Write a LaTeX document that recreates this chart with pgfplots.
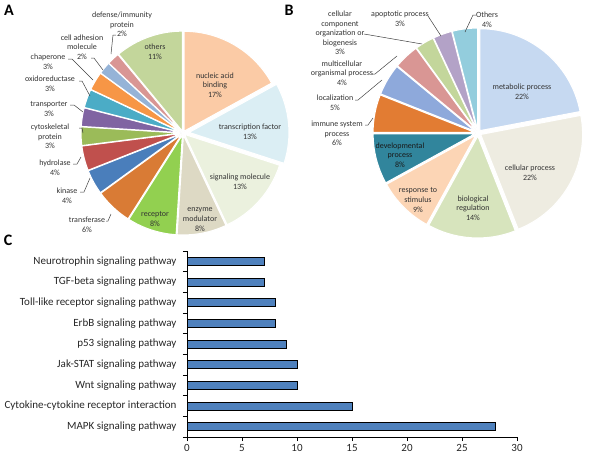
\documentclass[border=0pt]{standalone}
\usepackage{pgfplots}
\pgfplotsset{compat=1.18}
\usepackage{pgfplotstable}
\usepackage{fontspec}
\setmainfont{Carlito}

% panel A colours
\definecolor{aNuc}{HTML}{FBCBA6}
\definecolor{aTf}{HTML}{DBEEF4}
\definecolor{aSig}{HTML}{EBF1DE}
\definecolor{aEnz}{HTML}{DDD9C4}
\definecolor{aRec}{HTML}{92D050}
\definecolor{aTra}{HTML}{D97B35}
\definecolor{aKin}{HTML}{4A7EBB}
\definecolor{aHyd}{HTML}{C0504D}
\definecolor{aCyt}{HTML}{9BBB59}
\definecolor{aTrp}{HTML}{8064A2}
\definecolor{aOxi}{HTML}{4BACC6}
\definecolor{aCha}{HTML}{F79646}
\definecolor{aAdh}{HTML}{95B3D7}
\definecolor{aDef}{HTML}{D99694}
\definecolor{aOth}{HTML}{C3D69B}
% panel B colours
\definecolor{bMet}{HTML}{C6D9F1}
\definecolor{bCel}{HTML}{EEECE1}
\definecolor{bBio}{HTML}{D7E4BD}
\definecolor{bRes}{HTML}{FCD5B5}
\definecolor{bDev}{HTML}{31859C}
\definecolor{bImm}{HTML}{E27C33}
\definecolor{bLoc}{HTML}{8EA9DB}
\definecolor{bMul}{HTML}{D99694}
\definecolor{bCco}{HTML}{C3D69B}
\definecolor{bApo}{HTML}{B3A2C7}
\definecolor{bOth}{HTML}{93CDDD}
\definecolor{barblue}{HTML}{4F81BD}

\tikzset{
  lab/.style={font=\fontsize{8}{9.6}\selectfont, align=center, text=black!80, inner sep=0pt},
  lead/.style={draw=black!75, line width=0.5pt},
  panel/.style={font=\fontsize{16}{16}\bfseries\selectfont}
}

% slices clockwise from 12 o'clock
\pgfplotstableread{
value col explode
17 aNuc 2
13 aTf 6
13 aSig 2
8 aEnz 2
8 aRec 2
6 aTra 2
4 aKin 2
4 aHyd 2
3 aCyt 2
3 aTrp 2
3 aOxi 2
3 aCha 2
2 aAdh 2
2 aDef 2
11 aOth 2
}\pieA

\pgfplotstableread{
value col explode
22 bMet 3
22 bCel 3
14 bBio 3
9 bRes 3
8 bDev 3
6 bImm 3
5 bLoc 3
4 bMul 3
3 bCco 3
3 bApo 3
4 bOth 3
}\pieB

% #1 table, #2/#3 centre (axis units = pt), #4 radius in pt
\newcommand\drawpie[4]{%
  \pgfplotstablegetrowsof{#1}\let\nrows\pgfplotsretval
  \pgfmathtruncatemacro\lastrow{\nrows-1}%
  \gdef\cumangle{90}%
  \foreach \i in {0,...,\lastrow}{%
    \pgfplotstablegetelem{\i}{value}\of{#1}\let\val\pgfplotsretval
    \pgfplotstablegetelem{\i}{col}\of{#1}\let\col\pgfplotsretval
    \pgfplotstablegetelem{\i}{explode}\of{#1}\let\ex\pgfplotsretval
    \pgfmathsetmacro\aend{\cumangle-3.6*\val}%
    \pgfmathsetmacro\amid{(\cumangle+\aend)/2}%
    \fill[fill=\col, draw=white, line width=1.1pt, line join=round]
      (axis cs:#2,#3) ++(\amid:\ex pt) -- ++(\cumangle:#4pt)
      arc[start angle=\cumangle, end angle=\aend, radius=#4pt] -- cycle;
    \xdef\cumangle{\aend}%
  }%
}

\begin{document}
\begin{tikzpicture}
\path[use as bounding box] (0,0) rectangle (600pt,-460pt);

\begin{axis}[at={(0pt,0pt)}, anchor=north west, x=1pt, y=1pt, y dir=reverse,
  xmin=0, xmax=600, ymin=0, ymax=460, hide axis, clip=false]
\addplot[draw=none] coordinates {(0,0)};
\pgfplotsextra{\drawpie{\pieA}{183}{133}{100}}
\pgfplotsextra{\drawpie{\pieB}{478}{133}{102}}

\node[panel] at (axis cs:9,10) {A};
\node[panel] at (axis cs:289,10) {B};
\node[panel] at (axis cs:8,240) {C};

% panel A labels
\node[lab] at (axis cs:155,52) {others\\11\%};
\node[lab] at (axis cs:215,85) {nucleic acid\\binding\\17\%};
\node[lab] at (axis cs:250,132) {transcription factor\\13\%};
\node[lab] at (axis cs:240,182) {signaling molecule\\13\%};
\node[lab] at (axis cs:200,219.5) {enzyme\\modulator\\8\%};
\node[lab] at (axis cs:155,219) {receptor\\8\%};
\node[lab] at (axis cs:122,24.5) {defense/immunity\\protein\\2\%};
\node[lab] at (axis cs:82,47) {cell adhesion\\molecule\\2\%};
\node[lab] at (axis cs:48,62) {chaperone\\3\%};
\node[lab] at (axis cs:50,84) {oxidoreductase\\3\%};
\node[lab] at (axis cs:49,109) {transporter\\3\%};
\node[lab] at (axis cs:50,136.5) {cytoskeletal\\protein\\3\%};
\node[lab] at (axis cs:55,167.5) {hydrolase\\4\%};
\node[lab] at (axis cs:67,196) {kinase\\4\%};
\node[lab] at (axis cs:87,224.5) {transferase\\6\%};

\draw[lead] (axis cs:116,35) -- (axis cs:113,35) -- (axis cs:111,54);
\draw[lead] (axis cs:91,58) -- (axis cs:94,58) -- (axis cs:103,70);
\draw[lead] (axis cs:68,59) -- (axis cs:72,59) -- (axis cs:93,80);
\draw[lead] (axis cs:79,81) -- (axis cs:82,81) -- (axis cs:90,96);
\draw[lead] (axis cs:70,105) -- (axis cs:74,105) -- (axis cs:83,112);
\draw[lead] (axis cs:79,128) -- (axis cs:82,128) -- (axis cs:83,133);
\draw[lead] (axis cs:73,164) -- (axis cs:77,164) -- (axis cs:81,157);
\draw[lead] (axis cs:80,192) -- (axis cs:84,192) -- (axis cs:90,178);
\draw[lead] (axis cs:106,221) -- (axis cs:108,221) -- (axis cs:111,214);

% panel B labels
\node[lab] at (axis cs:522,92) {metabolic process\\22\%};
\node[lab] at (axis cs:530,173) {cellular process\\22\%};
\node[lab] at (axis cs:473,208) {biological\\regulation\\14\%};
\node[lab] at (axis cs:418,200) {response to\\stimulus\\9\%};
\node[lab, text=black!90] at (axis cs:400,155) {developmental\\process\\8\%};
\node[lab] at (axis cs:337,133.5) {immune system\\process\\6\%};
\node[lab] at (axis cs:335,103) {localization\\5\%};
\node[lab] at (axis cs:342,73) {multicellular\\organismal process\\4\%};
\node[lab] at (axis cs:340,33) {cellular\\component\\organization or\\biogenesis\\3\%};
\node[lab] at (axis cs:400,19) {apoptotic process\\3\%};
\node[lab] at (axis cs:487,20) {Others\\4\%};

\draw[lead] (axis cs:364,34) -- (axis cs:422,44);
\draw[lead] (axis cs:428,16) -- (axis cs:441,36);
\draw[lead] (axis cs:476,15) -- (axis cs:473,15) -- (axis cs:465,32);
\draw[lead] (axis cs:372,74) -- (axis cs:375,74) -- (axis cs:397,56);
\draw[lead] (axis cs:355,100) -- (axis cs:358,100) -- (axis cs:382,80);
\draw[lead] (axis cs:365,125) -- (axis cs:368,125) -- (axis cs:373,118);
\end{axis}

% panel C
\begin{axis}[at={(187pt,-437pt)}, anchor=south west, scale only axis,
  width=330pt, height=186pt,
  xbar, bar width=8pt,
  xmin=0, xmax=30, ymin=-0.5, ymax=8.5,
  axis x line*=bottom, axis y line*=left,
  axis line style={black, line width=1pt},
  tick style={black, line width=1pt},
  tick align=outside, major tick length=4pt,
  xtick={0,5,...,30},
  ytick={-0.5,0.5,...,8.5}, yticklabels={},
  extra y ticks={0,1,2,3,4,5,6,7,8},
  extra y tick labels={MAPK signaling pathway, Cytokine-cytokine receptor interaction,
    Wnt signaling pathway, Jak-STAT signaling pathway, p53 signaling pathway,
    ErbB signaling pathway, Toll-like receptor signaling pathway,
    TGF-beta signaling pathway, Neurotrophin signaling pathway},
  extra y tick style={major tick length=0pt, tick style={draw=none},
    yticklabel style={xshift=-7pt}},
  tick label style={font=\fontsize{11}{13}\selectfont, text=black!85},
  /pgf/number format/assume math mode=true]
\addplot[fill=barblue, draw=black, line width=0.8pt] coordinates {
  (28,0) (15,1) (10,2) (10,3) (9,4) (8,5) (8,6) (7,7) (7,8)
};
\end{axis}
\end{tikzpicture}
\end{document}
